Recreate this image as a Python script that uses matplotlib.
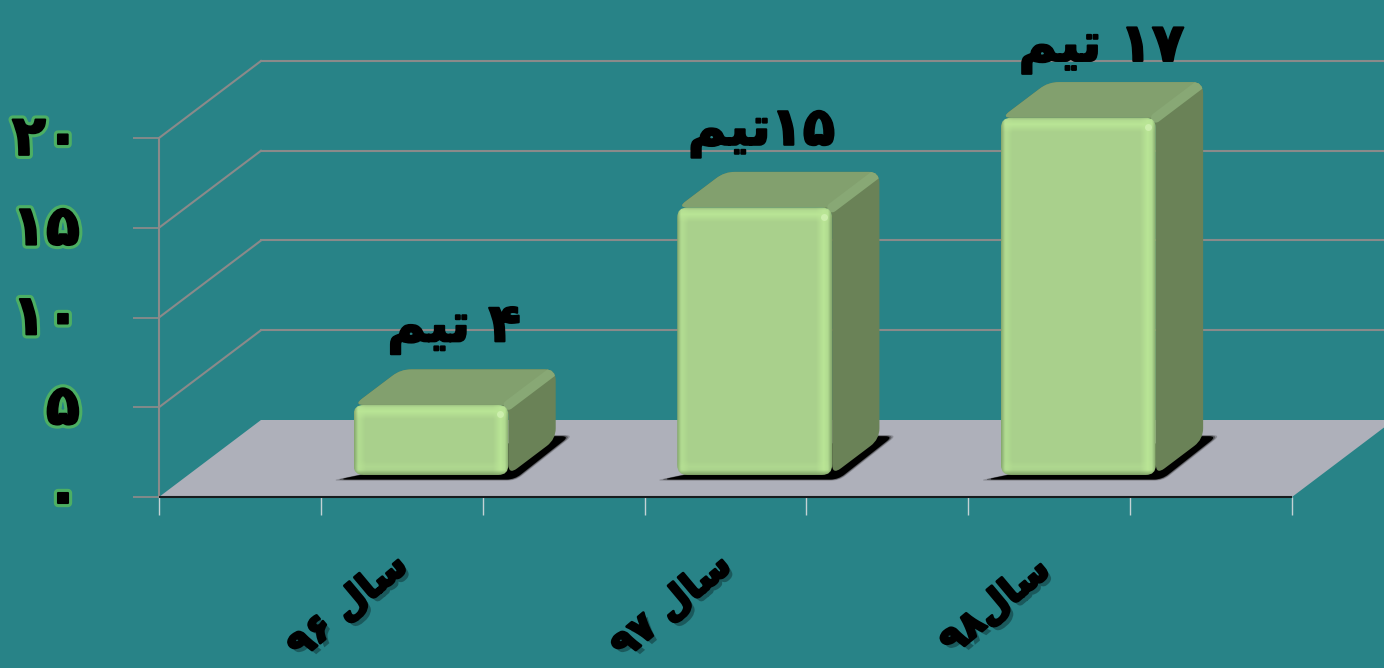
import numpy as np
import matplotlib
matplotlib.use("Agg")
import matplotlib.pyplot as plt
from matplotlib.patches import Polygon, PathPatch
from matplotlib.path import Path
from matplotlib.transforms import ScaledTranslation
import matplotlib.patheffects as pe

# ---- data ----
categories = ["سال ۹۶", "سال ۹۷", "سال۹۸"]
bar_values = [3.9, 14.9, 19.9]
value_labels = ["۴ تیم", "۱۵تیم", "۱۷ تیم"]
y_ticks = [0, 5, 10, 15, 20]
y_tick_labels = ["۰", "۵", "۱۰", "۱۵", "۲۰"]
x_centers = [1.5, 3.5, 5.5]
x_ticks = [0, 1, 2, 3, 4, 5, 6, 7]

# ---- style ----
BG = "#288387"
FLOOR = "#AEB0BA"
GRID = "#8A8A8A"
W, H = 1384, 668
DX, DY = 0.63, 4.29          # projection of full depth in data units
D0, D1 = 0.286, 0.75         # bar depth range
BAR_W = 0.957

# ---- minimal Arabic shaping for visual-order rendering ----
FORMS = {
    "س": (0xFEB1, 0xFEB2, 0xFEB3, 0xFEB4),
    "ا": (0xFE8D, 0xFE8E, None, None),
    "ل": (0xFEDD, 0xFEDE, 0xFEDF, 0xFEE0),
    "ت": (0xFE95, 0xFE96, 0xFE97, 0xFE98),
    "ی": (0xFBFC, 0xFBFD, 0xFBFE, 0xFBFF),
    "م": (0xFEE1, 0xFEE2, 0xFEE3, 0xFEE4),
}


def shape_word(word):
    out = []
    for i, ch in enumerate(word):
        prev_joins = i > 0 and FORMS[word[i - 1]][2] is not None
        next_exists = i < len(word) - 1
        f = FORMS[ch]
        can_next = next_exists and f[2] is not None
        if prev_joins and can_next:
            c = f[3]
        elif prev_joins:
            c = f[1]
        elif can_next:
            c = f[2]
        else:
            c = f[0]
        out.append(chr(c))
    return "".join(reversed(out))


def visual(s):
    runs, cur, kind = [], "", None
    for ch in s:
        k = "a" if ch in FORMS else ("d" if "\u06f0" <= ch <= "\u06f9" else "s")
        if k != kind and cur:
            runs.append((kind, cur))
            cur = ""
        cur += ch
        kind = k
    runs.append((kind, cur))
    return "".join(shape_word(t) if k == "a" else t for k, t in reversed(runs))


plt.rcParams["font.family"] = ["DejaVu Sans"]
fig = plt.figure(figsize=(W / 100, H / 100), dpi=100, facecolor=BG)
ax = fig.add_axes([159 / W, (H - 497) / H, (1292 - 159) / W, (497 - 138) / H])
ax.set_facecolor("none")
for s in ax.spines.values():
    s.set_visible(False)
SX, SY = (1292 - 159) / 7, (497 - 138) / 20


def proj(x, y, d):
    return (x + d * DX, y + d * DY)


def rounded(points, r):
    """Rounded polygon path; r is a corner radius in pixels."""
    pts = np.array(points, float) * [SX, SY]
    n = len(pts)
    verts, codes = [], []
    for i in range(n):
        p, a, b = pts[i], pts[i - 1], pts[(i + 1) % n]
        u = (a - p) / np.linalg.norm(a - p)
        v = (b - p) / np.linalg.norm(b - p)
        rr = min(r, np.linalg.norm(a - p) / 2, np.linalg.norm(b - p) / 2)
        verts += [p + u * rr, p, p + v * rr]
        codes += [Path.LINETO if i else Path.MOVETO, Path.CURVE3, Path.CURVE3]
    verts.append(verts[0])
    codes.append(Path.CLOSEPOLY)
    return Path(np.array(verts) / [SX, SY], codes)


def front_image(w, h):
    yy, xx = np.mgrid[0:h, 0:w] + 0.5
    base = np.array([169, 208, 140], float)
    light = np.array([186, 230, 150], float)
    dark = np.array([128, 162, 104], float)
    img = np.ones((h, w, 3)) * base
    dt, db, dl, dr = yy, h - yy, xx, w - xx

    def band(d, c, width, amount=1.0):
        nonlocal img
        t = np.clip(1 - d / width, 0, 1)[..., None] * amount
        img = img * (1 - t) + c * t

    def ridge(d, c, pos, width, amount=1.0):
        nonlocal img
        t = np.clip(1 - np.abs(d - pos) / width, 0, 1)[..., None] * amount
        img = img * (1 - t) + c * t

    ridge(dt, light, 7, 8)
    ridge(dr, light, 8, 8)
    ridge(dl, light, 6, 6, 0.55)
    ridge(db, light, 8, 6, 0.35)
    band(dt, dark, 3, 0.5)
    band(dl, dark, 4, 0.9)
    band(dr, dark, 4, 0.9)
    band(db, dark, 5, 1.0)
    return np.clip(img, 0, 255).astype(np.uint8)


# ---- walls and grid ----
for v in y_ticks:
    a = proj(0, v, 0)
    b = proj(0, v, 1)
    c = (7.7, b[1])
    if v > 0:
        ax.plot([a[0], b[0]], [a[1], b[1]], color=GRID, lw=1.5, clip_on=False, zorder=1)
        ax.plot([b[0], c[0]], [b[1], c[1]], color=GRID, lw=1.5, clip_on=False, zorder=1)
ax.plot([0, 0], [0, 20], color=GRID, lw=1.5, clip_on=False, zorder=1)

# ---- floor ----
floor = [proj(0, 0, 0), proj(7, 0, 0), proj(7, 0, 1), proj(0, 0, 1)]
ax.add_patch(Polygon(floor, closed=True, fc=FLOOR, ec="none", clip_on=False, zorder=2))
ax.plot([0, 7], [0, 0], color="#161C1E", lw=1.5, clip_on=False, zorder=3, solid_capstyle="butt")

# ---- bars ----
for xc, val in zip(x_centers, bar_values):
    x0, x1 = xc - BAR_W / 2, xc + BAR_W / 2
    # shadow
    sh = [proj(x0 - 0.07, -0.1, 0.25), proj(x1 + 0.06, -0.1, 0.25),
          proj(x1 + 0.06, 0, 0.79), proj(x1 - 0.1, 0, 0.79)]
    sc = np.mean(sh, axis=0)
    for grow, alpha in [(1.05, 0.2), (1.025, 0.35), (1.0, 1.0)]:
        ax.add_patch(PathPatch(rounded([sc + (np.array(p) - sc) * grow for p in sh], 8),
                               fc="black", ec="none", alpha=alpha, clip_on=False, zorder=4))
    # whole silhouette of the box in the side colour
    sil = rounded([proj(x0, val, D0), proj(x0, val, D1), proj(x1, val, D1),
                   proj(x1, 0, D1), proj(x1, 0, D0), proj(x1, val, D0)], 11)
    sil_patch = PathPatch(sil, fc="#6A8257", ec="none", clip_on=False, zorder=5)
    ax.add_patch(sil_patch)
    clip_box = PathPatch(sil, fc="none", ec="none", transform=ax.transData)
    ax.add_patch(clip_box)
    clip_box.set_clip_on(False)
    # top face, cut by the silhouette
    top = [proj(x0, val, D0), proj(x1, val, D0), proj(x1, val, D1), proj(x0, val, D1)]
    tp = Polygon(top, closed=True, fc="#82A06E", ec="none", zorder=6)
    ax.add_patch(tp)
    tp.set_clip_path(clip_box)
    tp.set_clip_box(fig.bbox)
    # bevel between top and side
    e0, e1 = proj(x1, val, D0), proj(x1, val, D1)
    ln, = ax.plot([e0[0], e1[0]], [e0[1], e1[1]], color="#88A875", lw=7,
                  solid_capstyle="round", zorder=7)
    ln.set_clip_path(clip_box)
    ln.set_clip_box(fig.bbox)
    # front face
    fx0, fy0 = proj(x0, 0, D0)
    fx1, fy1 = proj(x1, val, D0)
    img = front_image(int(round((fx1 - fx0) * SX)), int(round((fy1 - fy0) * SY)))
    im = ax.imshow(img, extent=[fx0, fx1, fy0, fy1], origin="upper", aspect="auto",
                   interpolation="bilinear", zorder=8)
    face = PathPatch(rounded([(fx0, fy0), (fx1, fy0), (fx1, fy1), (fx0, fy1)], 10),
                     transform=ax.transData, fc="none", ec="none")
    ax.add_patch(face)
    face.set_clip_on(False)
    im.set_clip_path(face)
    im.set_clip_box(fig.bbox)
    # corner glint
    ax.plot([fx1 - 8 / SX], [fy1 - 9 / SY], "o", ms=5, color="#D2F2B4", mec="none",
            alpha=0.8, clip_on=False, zorder=9)

# ---- value labels ----
label_dx = [0.14, 0.04, 0.14]
label_dy = [2.28, 2.23, 1.9]
for xc, val, lab, ldx, ldy in zip(x_centers, bar_values, value_labels, label_dx, label_dy):
    px, py = proj(xc, val, D1)
    ax.text(px - 0.29 + ldx, py + ldy, visual(lab), ha="center", va="center",
            fontsize=38, fontweight="bold", color="black", clip_on=False, zorder=10,
            path_effects=[pe.withStroke(linewidth=1.5, foreground="black")])

# ---- axes ----
ax.set_xlim(0, 7)
ax.set_ylim(0, 20)
ax.set_xticks(x_ticks)
ax.set_xticklabels([])
ax.set_yticks(y_ticks)
ax.set_yticklabels([visual(t) for t in y_tick_labels], fontsize=40, fontweight="bold",
                   color="black", ha="right",
                   path_effects=[pe.withStroke(linewidth=6, foreground="#4CAF63"),
                                 pe.withStroke(linewidth=1.5, foreground="black")])
ax.tick_params(axis="y", length=19, width=1.3, color=GRID, pad=38)
ax.tick_params(axis="x", length=13, width=1.0, color="#C4D2D4")
up = ScaledTranslation(0, 3 / 72, fig.dpi_scale_trans)
for lbl in ax.get_yticklabels():
    lbl.set_transform(lbl.get_transform() + up)

# ---- category labels ----
for xc, cat in zip(x_centers, categories):
    ax.text(xc - 0.33, -6.1, visual(cat), ha="center", va="center", rotation=40,
            rotation_mode="anchor", fontsize=27, fontweight="bold", color="black",
            clip_on=False, zorder=10,
            path_effects=[pe.withSimplePatchShadow(offset=(3, -3), shadow_rgbFace="#123E40", alpha=0.6),
                          pe.withStroke(linewidth=2, foreground="black")])

fig.savefig("out.png", dpi=100, facecolor=BG)
